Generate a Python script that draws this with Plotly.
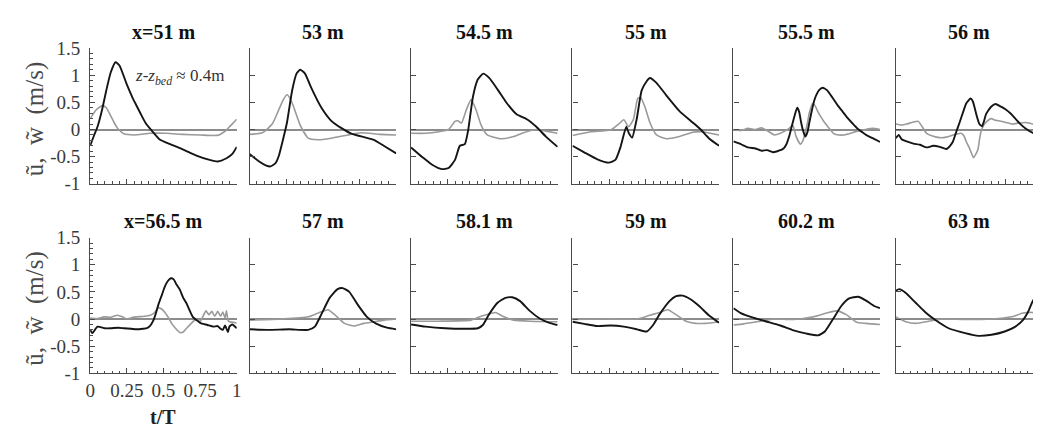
import plotly.graph_objects as go

W, H = 1038, 440

TITLES = ["x=51 m", "53 m", "54.5 m", "55 m", "55.5 m", "56 m",
          "x=56.5 m", "57 m", "58.1 m", "59 m", "60.2 m", "63 m"]
Y_TICKS = [-1, -0.5, 0, 0.5, 1, 1.5]
Y_TICKTEXT = ["-1", "-0.5", "0", "0.5", "1", "1.5"]
X_TICKS = [0, 0.25, 0.5, 0.75, 1]
X_TICKTEXT = ["0", "0.25", "0.5", "0.75", "1"]

# ---- x = 51 m
t_u_51 = [0, 0.025, 0.05, 0.08, 0.11, 0.14, 0.173, 0.2, 0.25, 0.29, 0.32, 0.35, 0.376, 0.42, 0.477, 0.545, 0.635, 0.725, 0.815, 0.87, 0.93, 0.97, 1.0]
u_51 = [-0.30, -0.12, 0.05, 0.35, 0.72, 1.05, 1.24, 1.18, 0.83, 0.58, 0.42, 0.26, 0.13, -0.02, -0.19, -0.27, -0.37, -0.48, -0.56, -0.59, -0.53, -0.45, -0.32]
t_w_51 = [0, 0.04, 0.083, 0.11, 0.14, 0.165, 0.185, 0.21, 0.23, 0.3, 0.41, 0.52, 0.635, 0.75, 0.84, 0.88, 0.905, 0.93, 0.95, 0.975, 1.0]
w_51 = [0.20, 0.36, 0.44, 0.40, 0.25, 0.12, 0.03, -0.04, -0.08, -0.10, -0.07, -0.07, -0.09, -0.10, -0.11, -0.10, -0.06, -0.01, 0.05, 0.12, 0.19]

# ---- 53 m
t_u_53 = [0, 0.065, 0.11, 0.143, 0.177, 0.2, 0.22, 0.255, 0.29, 0.32, 0.345, 0.378, 0.42, 0.49, 0.557, 0.624, 0.69, 0.78, 0.848, 0.915, 1.0]
u_53 = [-0.45, -0.59, -0.66, -0.68, -0.62, -0.48, -0.27, 0.13, 0.72, 1.03, 1.10, 1.03, 0.77, 0.40, 0.16, 0.03, -0.07, -0.14, -0.19, -0.30, -0.44]
t_w_53 = [0, 0.087, 0.154, 0.2, 0.23, 0.255, 0.28, 0.3, 0.345, 0.4, 0.467, 0.557, 0.67, 0.76, 0.89, 1.0]
w_53 = [-0.09, -0.06, 0.10, 0.37, 0.55, 0.64, 0.55, 0.42, 0.08, -0.16, -0.19, -0.16, -0.10, -0.06, -0.09, -0.10]

# ---- 54.5 m
t_u_545 = [0, 0.078, 0.144, 0.21, 0.256, 0.3, 0.333, 0.367, 0.39, 0.422, 0.455, 0.493, 0.533, 0.59, 0.655, 0.72, 0.79, 0.855, 0.92, 1.0]
u_545 = [-0.33, -0.51, -0.65, -0.73, -0.71, -0.56, -0.30, -0.27, -0.01, 0.60, 0.92, 1.03, 0.95, 0.74, 0.48, 0.28, 0.19, 0.05, -0.13, -0.32]
t_w_545 = [0, 0.1, 0.19, 0.256, 0.3, 0.32, 0.344, 0.378, 0.41, 0.444, 0.478, 0.52, 0.61, 0.7, 0.767, 0.855, 0.92, 1.0]
w_545 = [-0.07, -0.07, -0.04, 0.0, 0.15, 0.16, 0.12, 0.37, 0.55, 0.36, 0.08, -0.10, -0.17, -0.13, -0.06, 0.0, -0.03, -0.07]

# ---- 55 m
t_u_55 = [0, 0.08, 0.17, 0.248, 0.293, 0.327, 0.367, 0.385, 0.407, 0.438, 0.472, 0.506, 0.528, 0.573, 0.64, 0.73, 0.82, 0.875, 0.93, 1.0]
u_55 = [-0.30, -0.42, -0.55, -0.61, -0.56, -0.33, 0.05, -0.07, -0.15, 0.19, 0.72, 0.89, 0.95, 0.86, 0.63, 0.34, 0.13, 0.0, -0.16, -0.30]
t_w_55 = [0, 0.125, 0.26, 0.315, 0.35, 0.383, 0.416, 0.445, 0.465, 0.494, 0.528, 0.573, 0.64, 0.73, 0.82, 0.886, 1.0]
w_55 = [-0.11, -0.04, -0.01, 0.10, 0.18, 0.05, 0.19, 0.57, 0.59, 0.42, 0.13, -0.10, -0.17, -0.13, -0.05, -0.04, -0.10]

# ---- 55.5 m
t_u_555 = [0, 0.05, 0.1, 0.15, 0.19, 0.23, 0.27, 0.3, 0.338, 0.36, 0.383, 0.4, 0.417, 0.435, 0.448, 0.462, 0.475, 0.49, 0.505, 0.518, 0.535, 0.552, 0.57, 0.586, 0.608, 0.625, 0.64, 0.675, 0.71, 0.745, 0.777, 0.81, 0.845, 0.88, 0.912, 0.95, 1.0]
u_555 = [-0.22, -0.27, -0.33, -0.35, -0.39, -0.38, -0.42, -0.40, -0.36, -0.28, -0.10, 0.08, 0.25, 0.40, 0.33, 0.13, -0.02, -0.13, -0.05, 0.13, 0.35, 0.54, 0.66, 0.73, 0.77, 0.75, 0.72, 0.59, 0.45, 0.33, 0.22, 0.12, 0.02, -0.05, -0.11, -0.16, -0.23]
t_w_555 = [0, 0.05, 0.1, 0.15, 0.19, 0.23, 0.28, 0.32, 0.35, 0.38, 0.405, 0.428, 0.457, 0.475, 0.489, 0.505, 0.518, 0.54, 0.557, 0.574, 0.6, 0.63, 0.66, 0.687, 0.72, 0.755, 0.8, 0.845, 0.9, 0.95, 1.0]
w_555 = [0.0, -0.02, 0.02, 0.0, 0.03, -0.02, -0.10, -0.07, -0.03, 0.02, 0.08, -0.13, -0.27, -0.20, -0.07, 0.12, 0.31, 0.48, 0.44, 0.34, 0.22, 0.10, 0.0, -0.08, -0.10, -0.10, -0.07, -0.03, 0.0, 0.02, 0.0]

# ---- 56 m
t_u_56 = [0, 0.02, 0.04, 0.074, 0.12, 0.164, 0.21, 0.255, 0.3, 0.345, 0.37, 0.39, 0.41, 0.435, 0.46, 0.48, 0.51, 0.525, 0.536, 0.555, 0.57, 0.588, 0.6, 0.615, 0.65, 0.682, 0.71, 0.75, 0.785, 0.818, 0.85, 0.885, 0.94, 1.0]
u_56 = [-0.16, -0.10, -0.18, -0.22, -0.26, -0.28, -0.33, -0.30, -0.32, -0.36, -0.30, -0.22, -0.06, 0.13, 0.33, 0.48, 0.57, 0.52, 0.42, 0.22, 0.10, 0.06, 0.14, 0.28, 0.42, 0.47, 0.43, 0.37, 0.29, 0.19, 0.10, 0.02, -0.07, -0.12]
t_w_56 = [0, 0.04, 0.074, 0.11, 0.153, 0.18, 0.21, 0.25, 0.3, 0.345, 0.39, 0.42, 0.446, 0.465, 0.48, 0.5, 0.514, 0.53, 0.545, 0.56, 0.57, 0.58, 0.6, 0.615, 0.65, 0.68, 0.705, 0.75, 0.795, 0.84, 0.885, 0.94, 1.0]
w_56 = [0.10, 0.08, 0.10, 0.13, 0.15, 0.05, -0.07, -0.12, -0.15, -0.14, -0.10, -0.08, -0.07, -0.12, -0.22, -0.33, -0.42, -0.52, -0.46, -0.37, -0.20, -0.05, 0.08, 0.13, 0.20, 0.17, 0.16, 0.13, 0.10, 0.12, 0.13, 0.10, 0.10]

# ---- 56.5 m
t_u_565 = [0, 0.015, 0.05, 0.1, 0.14, 0.19, 0.23, 0.28, 0.32, 0.36, 0.387, 0.41, 0.432, 0.45, 0.466, 0.49, 0.51, 0.53, 0.55, 0.57, 0.59, 0.61, 0.635, 0.655, 0.68, 0.7, 0.725, 0.75, 0.77, 0.8, 0.84, 0.87, 0.89, 0.905, 0.92, 0.94, 0.95, 0.97, 1.0]
u_565 = [-0.20, -0.26, -0.14, -0.17, -0.17, -0.16, -0.17, -0.18, -0.19, -0.18, -0.17, -0.12, -0.02, 0.12, 0.27, 0.45, 0.60, 0.70, 0.75, 0.73, 0.63, 0.55, 0.39, 0.30, 0.15, 0.04, -0.02, -0.07, -0.09, -0.11, -0.14, -0.13, -0.18, -0.20, -0.12, -0.24, -0.14, -0.10, -0.17]
t_w_565 = [0, 0.05, 0.095, 0.14, 0.185, 0.22, 0.25, 0.29, 0.32, 0.37, 0.41, 0.44, 0.466, 0.49, 0.51, 0.535, 0.556, 0.585, 0.613, 0.635, 0.658, 0.69, 0.714, 0.735, 0.75, 0.77, 0.79, 0.81, 0.83, 0.85, 0.87, 0.89, 0.905, 0.92, 0.93, 0.94, 0.95, 0.975, 1.0]
w_565 = [0.02, 0.01, 0.04, 0.03, 0.07, 0.04, 0.0, 0.03, 0.04, 0.05, 0.07, 0.12, 0.21, 0.18, 0.12, 0.02, -0.08, -0.18, -0.25, -0.24, -0.17, -0.08, -0.02, -0.02, -0.05, 0.05, 0.15, 0.08, 0.14, 0.05, 0.14, 0.05, 0.13, 0.02, 0.15, -0.02, -0.05, -0.06, -0.08]

# ---- 57 m
t_u_57 = [0, 0.13, 0.27, 0.4, 0.445, 0.49, 0.546, 0.6, 0.635, 0.68, 0.736, 0.8, 0.86, 0.937, 1.0]
u_57 = [-0.19, -0.20, -0.19, -0.20, -0.14, 0.09, 0.39, 0.55, 0.57, 0.50, 0.27, 0.04, -0.08, -0.16, -0.19]
t_w_57 = [0, 0.22, 0.4, 0.468, 0.535, 0.58, 0.647, 0.714, 0.78, 0.85, 0.915, 1.0]
w_57 = [-0.02, 0.0, 0.04, 0.11, 0.17, 0.08, -0.08, -0.13, -0.08, -0.05, -0.02, 0.0]

# ---- 58.1 m
t_u_581 = [0, 0.1, 0.233, 0.367, 0.456, 0.49, 0.533, 0.59, 0.644, 0.69, 0.744, 0.81, 0.878, 0.944, 1.0]
u_581 = [-0.10, -0.14, -0.17, -0.18, -0.17, -0.11, 0.09, 0.30, 0.39, 0.40, 0.33, 0.15, 0.01, -0.07, -0.11]
t_w_581 = [0, 0.19, 0.41, 0.478, 0.556, 0.578, 0.633, 0.7, 0.81, 1.0]
w_581 = [-0.04, -0.04, -0.02, 0.05, 0.11, 0.12, 0.04, -0.02, -0.04, -0.05]

# ---- 59 m
t_u_59 = [0, 0.08, 0.17, 0.26, 0.35, 0.44, 0.506, 0.55, 0.595, 0.662, 0.707, 0.752, 0.808, 0.864, 0.93, 1.0]
u_59 = [-0.05, -0.09, -0.13, -0.12, -0.14, -0.19, -0.23, -0.11, 0.09, 0.33, 0.42, 0.43, 0.36, 0.24, 0.07, -0.07]
t_w_59 = [0, 0.215, 0.44, 0.528, 0.595, 0.65, 0.707, 0.774, 0.84, 0.91, 1.0]
w_59 = [-0.01, 0.0, 0.0, 0.07, 0.12, 0.17, 0.08, -0.04, -0.08, -0.08, -0.05]

# ---- 60.2 m
t_u_602 = [0, 0.05, 0.14, 0.23, 0.32, 0.41, 0.5, 0.58, 0.624, 0.68, 0.736, 0.79, 0.85, 0.905, 0.96, 1.0]
u_602 = [0.20, 0.11, 0.02, -0.05, -0.12, -0.21, -0.27, -0.30, -0.23, 0.0, 0.24, 0.38, 0.41, 0.34, 0.24, 0.20]
t_w_602 = [0, 0.07, 0.185, 0.275, 0.41, 0.545, 0.635, 0.703, 0.77, 0.84, 0.905, 1.0]
w_602 = [-0.11, -0.09, -0.04, 0.0, -0.01, 0.04, 0.11, 0.15, 0.08, -0.06, -0.08, -0.10]

# ---- 63 m
t_u_63 = [0, 0.023, 0.068, 0.135, 0.203, 0.27, 0.36, 0.473, 0.563, 0.653, 0.743, 0.81, 0.867, 0.9, 0.932, 0.965, 1.0]
u_63 = [0.52, 0.55, 0.48, 0.30, 0.12, -0.02, -0.17, -0.26, -0.31, -0.29, -0.23, -0.15, -0.02, 0.12, 0.32, 0.45, 0.52]
t_w_63 = [0, 0.068, 0.135, 0.225, 0.315, 0.473, 0.653, 0.79, 0.867, 0.932, 1.0]
w_63 = [0.04, -0.05, -0.08, -0.04, 0.0, -0.01, 0.0, 0.04, 0.11, 0.12, 0.06]

PANELS = [
    (t_u_51, u_51, t_w_51, w_51), (t_u_53, u_53, t_w_53, w_53),
    (t_u_545, u_545, t_w_545, w_545), (t_u_55, u_55, t_w_55, w_55),
    (t_u_555, u_555, t_w_555, w_555), (t_u_56, u_56, t_w_56, w_56),
    (t_u_565, u_565, t_w_565, w_565), (t_u_57, u_57, t_w_57, w_57),
    (t_u_581, u_581, t_w_581, w_581), (t_u_59, u_59, t_w_59, w_59),
    (t_u_602, u_602, t_w_602, w_602), (t_u_63, u_63, t_w_63, w_63),
]

# ---- layout in pixels
COL_LEFT = [86, 247, 410, 573, 735.5, 899.5]
PANEL_W = 148
ROW_TOP = [40, 239]
PANEL_H = 142.5

FONT = "Liberation Serif"
AX_COL = "#4a4a4a"

fig = go.Figure()
layout = {}
annotations = []

for i, (tu, u, tw, w) in enumerate(PANELS):
    r, c = divmod(i, 6)
    k = i + 1
    xa = "x" if k == 1 else f"x{k}"
    ya = "y" if k == 1 else f"y{k}"
    fig.add_trace(go.Scatter(x=tw, y=w, xaxis=xa, yaxis=ya, mode="lines",
                             line=dict(color="#9a9a9a", width=1.6, shape="spline", smoothing=0.5),
                             showlegend=False, hoverinfo="skip"))
    fig.add_trace(go.Scatter(x=tu, y=u, xaxis=xa, yaxis=ya, mode="lines",
                             line=dict(color="#151515", width=1.9, shape="spline", smoothing=0.5),
                             showlegend=False, hoverinfo="skip"))
    left = COL_LEFT[c]
    right = min(left + PANEL_W, W)
    xmax = (right - left) / PANEL_W
    top = ROW_TOP[r]
    bot = top + PANEL_H
    xkey = "xaxis" if k == 1 else f"xaxis{k}"
    ykey = "yaxis" if k == 1 else f"yaxis{k}"
    layout[xkey] = dict(
        domain=[left / W, right / W], anchor=ya, range=[0, xmax],
        showline=True, linecolor=AX_COL, linewidth=1.3, mirror=False,
        showgrid=False, zeroline=False,
        tickmode="array", tickvals=X_TICKS, ticktext=X_TICKTEXT,
        ticks="inside", ticklen=5, tickcolor=AX_COL, tickwidth=1,
        minor=dict(ticks="inside", ticklen=2.5, tickcolor=AX_COL, tickwidth=1, dtick=0.05, tick0=0, showgrid=False),
        showticklabels=(i == 6),
        tickfont=dict(family=FONT, size=19, color="#3a3a3a"),
    )
    ydict = dict(
        domain=[1 - bot / H, 1 - top / H], anchor=xa, range=[-1, 1.5],
        showline=True, linecolor=AX_COL, linewidth=1.3, mirror=False,
        showgrid=False, zeroline=True, zerolinecolor="#8c8c8c", zerolinewidth=1.5,
        tickmode="array", tickvals=Y_TICKS, ticktext=Y_TICKTEXT,
        ticks="inside", ticklen=5, tickcolor=AX_COL, tickwidth=1,
        showticklabels=(c == 0), ticklabelstandoff=5,
        tickfont=dict(family=FONT, size=19, color="#3a3a3a"),
    )
    if c == 0:
        ydict["minor"] = dict(ticks="inside", ticklen=2.5, tickcolor=AX_COL, tickwidth=1, dtick=0.1, tick0=0, showgrid=False)
    layout[ykey] = ydict
    # panel title
    annotations.append(dict(
        text=f"<b>{TITLES[i]}</b>", xref="paper", yref="paper",
        x=(left + PANEL_W / 2) / W, y=1 - (top - 17) / H,
        xanchor="center", yanchor="middle", showarrow=False,
        font=dict(family=FONT, size=20, color="#111"),
    ))

# y-axis titles
for r in range(2):
    annotations.append(dict(
        text="ũ,  w\u0303  (m/s)", xref="paper", yref="paper",
        x=30 / W, y=1 - (ROW_TOP[r] + 74) / H, textangle=-90,
        xanchor="center", yanchor="middle", showarrow=False,
        font=dict(family=FONT, size=25, color="#4a4a4a"),
    ))

# x-axis title
annotations.append(dict(
    text="<b>t/T</b>", xref="paper", yref="paper",
    x=160 / W, y=1 - 427 / H, xanchor="center", yanchor="middle", showarrow=False,
    font=dict(family=FONT, size=20, color="#222"),
))

# height annotation
annotations.append(dict(
    text="<i>z</i>-<i>z</i><sub><i>bed</i></sub> ≈ 0.4m", xref="paper", yref="paper",
    x=129 / W, y=1 - 70 / H, xanchor="left", yanchor="middle", showarrow=False,
    font=dict(family=FONT, size=17, color="#333"),
))

fig.update_layout(
    width=W, height=H, margin=dict(l=0, r=0, t=0, b=0),
    paper_bgcolor="white", plot_bgcolor="white",
    font=dict(family=FONT),
    annotations=annotations, **layout,
)

fig.write_html("out.html")
